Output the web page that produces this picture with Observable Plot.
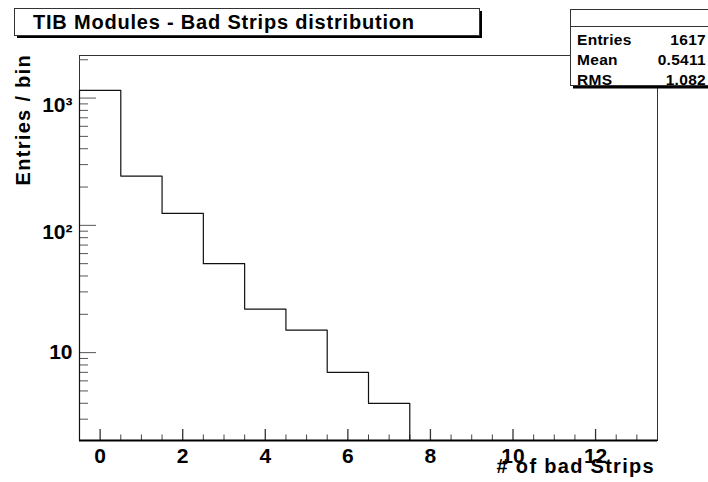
<!DOCTYPE html>
<html><head><meta charset="utf-8">
<script src="https://cdn.jsdelivr.net/npm/d3@7"></script>
<script src="https://cdn.jsdelivr.net/npm/@observablehq/plot@0.6"></script>
<style>
html,body{margin:0;padding:0;background:#fff;}
#wrap{position:relative;width:708px;height:482px;overflow:hidden;}
</style>
</head><body>
<div id="wrap"></div>
<script>
// ---- data ----
const binCenters = [0, 1, 2, 3, 4, 5, 6, 7, 8, 9, 10, 11, 12, 13];
const counts     = [1151, 244, 124, 50, 22, 15, 7, 4, 0, 0, 0, 0, 0, 0];
const binWidth = 1;
const xDomain = [-0.5, 13.5];
const yDomain = [2.04, 2160];
const xMajorTicks = [0, 2, 4, 6, 8, 10, 12];
const xMinorTicks = [0.5, 1, 1.5, 2.5, 3, 3.5, 4.5, 5, 5.5, 6.5, 7, 7.5, 8.5, 9, 9.5, 10.5, 11, 11.5, 12.5, 13];
const yMajorTicks = [10, 100, 1000];
const yMajorLabels = ["10", "10²", "10³"];
const yMinorTicks = [3, 4, 5, 6, 7, 8, 9, 20, 30, 40, 50, 60, 70, 80, 90, 200, 300, 400, 500, 600, 700, 800, 900, 2000];
const titleText = "TIB Modules - Bad Strips distribution";
const xTitle = "# of bad Strips";
const yTitle = "Entries / bin";
const statNames  = ["Entries", "Mean", "RMS"];
const statValues = ["1617", "0.5411", "1.082"];

// ---- layout ----
const W = 708, H = 482;
const mL = 79, mR = 51, mT = 55, mB = 42;
const pw = W - mL - mR, ph = H - mT - mB;
const FONT = '"Liberation Sans", Arial, Helvetica, sans-serif';

// step outline of the histogram
const yFloor = yDomain[0];
const steps = [{x: binCenters[0] - binWidth / 2, y: yFloor}];
binCenters.forEach((c, i) => {
  const v = counts[i] > 0 ? counts[i] : yFloor;
  steps.push({x: c - binWidth / 2, y: v});
  steps.push({x: c + binWidth / 2, y: v});
});
steps.push({x: binCenters[binCenters.length - 1] + binWidth / 2, y: yFloor});

const labelOf = new Map(yMajorTicks.map((t, i) => [t, yMajorLabels[i]]));

const svg = Plot.plot({
  width: W, height: H,
  marginLeft: mL, marginRight: mR, marginTop: mT, marginBottom: mB,
  style: {fontFamily: FONT, fontWeight: "bold", fontSize: "21px", background: "#fff", color: "#000", overflow: "visible"},
  x: {domain: xDomain},
  y: {type: "log", domain: yDomain},
  marks: [
    Plot.frame({stroke: "#333"}),
    Plot.tickX(xMinorTicks, {x: d => d, insetTop: ph - 5.5, stroke: "#444"}),
    Plot.tickX(xMajorTicks, {x: d => d, insetTop: ph - 11, stroke: "#333", strokeWidth: 1.3}),
    Plot.tickY(yMinorTicks, {y: d => d, insetRight: pw - 9, stroke: "#555"}),
    Plot.tickY(yMajorTicks, {y: d => d, insetRight: pw - 17, stroke: "#555"}),
    Plot.line(steps, {x: "x", y: "y", stroke: "#111", strokeWidth: 1.2}),
    Plot.ruleY([yFloor], {stroke: "#000", strokeWidth: 2}),
    Plot.axisX(xMajorTicks, {tickSize: 0, tickPadding: 8, fontSize: 21, label: null}),
    Plot.axisY([yMajorTicks[0]], {tickSize: 0, tickPadding: 7, fontSize: 21, label: null, tickFormat: d => labelOf.get(d)}),
    Plot.axisY(yMajorTicks.slice(1), {tickSize: 0, tickPadding: 7, fontSize: 21, dy: 7, label: null, tickFormat: d => labelOf.get(d)})
  ]
});
document.getElementById("wrap").appendChild(svg);

// ---- annotations (title pave, stats box, axis titles) ----
const s = d3.select(svg);
const g = s.append("g").attr("font-family", FONT).attr("font-weight", "bold").attr("fill", "#000")
  .attr("text-anchor", "start");

// title box with shadow
g.append("rect").attr("x", 17).attr("y", 11).attr("width", 465).attr("height", 27).attr("fill", "#000");
g.append("rect").attr("x", 14.5).attr("y", 8.5).attr("width", 465).attr("height", 27)
  .attr("fill", "#fff").attr("stroke", "#333");
g.append("text").attr("x", 33).attr("y", 28.7).attr("font-size", 20).attr("letter-spacing", 0.8)
  .attr("text-anchor", "start").text(titleText);

// stats box with shadow
g.append("rect").attr("x", 573).attr("y", 12).attr("width", 145).attr("height", 76.5).attr("fill", "#000");
g.append("rect").attr("x", 570.5).attr("y", 9.5).attr("width", 145).attr("height", 76)
  .attr("fill", "#fff").attr("stroke", "#333");
g.append("line").attr("x1", 570.5).attr("x2", 716).attr("y1", 26.5).attr("y2", 26.5).attr("stroke", "#333");
statNames.forEach((n, i) => {
  const by = 45 + i * 20;
  g.append("text").attr("x", 577).attr("y", by).attr("font-size", 15.5).attr("letter-spacing", 0.3)
    .attr("text-anchor", "start").text(n);
  g.append("text").attr("x", 706).attr("y", by).attr("font-size", 15.5).attr("letter-spacing", 0.3)
    .attr("text-anchor", "end").text(statValues[i]);
});

// axis titles
g.append("text").attr("x", 655).attr("y", 473).attr("font-size", 20).attr("letter-spacing", 1.3)
  .attr("text-anchor", "end").text(xTitle);
g.append("text").attr("transform", "translate(29.5,54) rotate(-90)").attr("font-size", 20)
  .attr("letter-spacing", 1.3).attr("text-anchor", "end").text(yTitle);
</script>
</body></html>
